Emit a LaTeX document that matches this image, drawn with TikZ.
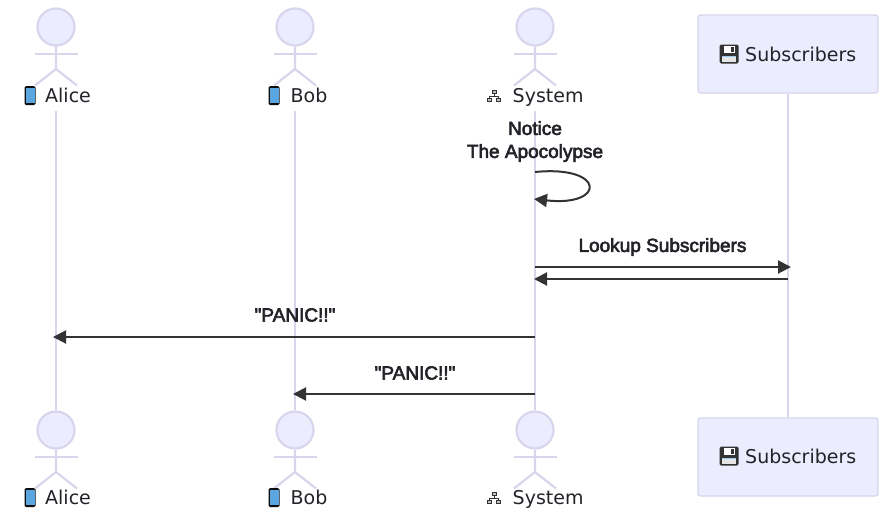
\documentclass[tikz,border=0pt]{standalone}
\usepackage{fontspec}
\setmainfont{DejaVu Sans}
\newfontfamily\msgfont[FakeBold=3]{Liberation Sans}
\usetikzlibrary{arrows.meta}
\definecolor{lilac}{HTML}{ECECFF}
\definecolor{edge}{HTML}{D8D5EC}
\definecolor{ink}{HTML}{333333}
\definecolor{txt}{HTML}{222228}
\definecolor{phone}{HTML}{5AA6E0}
\tikzset{
  x=1pt,y=-1pt,
  life/.style={draw=edge,line width=2.6pt},
  limb/.style={draw=edge,line width=2.2pt},
  head/.style={circle,draw=edge,fill=lilac,line width=2.2pt,minimum size=37pt,inner sep=0pt},
  pbox/.style={rectangle,rounded corners=2.5pt,draw=edge,fill=lilac,line width=1.4pt,minimum width=180pt,minimum height=78pt,inner sep=0pt},
  who/.style={font=\fontsize{19pt}{22pt}\selectfont,text=txt,inner sep=0pt,anchor=base west},
  msg/.style={font=\msgfont\fontsize{19pt}{23pt}\selectfont,text=txt,inner sep=0pt,align=center,anchor=center},
  wire/.style={draw=ink,line width=2pt,-{Triangle[length=13pt,width=13pt,fill=ink,color=ink]}},
}
% stick figure: #1 name, #2 x, #3 y of head centre
\newcommand{\stick}[3]{%
  \node[head] (#1) at (#2,#3) {};
  \coordinate (#1c) at (#2,#3+42);
  \draw[limb] (#1.south) -- (#1c) -- +(-21,16.5) (#1c) -- +(21,16.5);
  \draw[limb] (#2-21.5,#3+27) -- (#2+21.5,#3+27);
}
\newcommand{\phoneicon}[2]{%
  \fill[black!75!ink,rounded corners=1.5pt] (#1-5.5,#2-9.5) rectangle (#1+5.5,#2+9.5);
  \fill[phone] (#1-4.5,#2-7.5) rectangle (#1+4.5,#2+7.5);
}
\newcommand{\disk}[2]{%
  \fill[ink,rounded corners=1.5pt] (#1-9.5,#2-9.5) rectangle (#1+9.5,#2+9.5);
  \fill[white] (#1-5,#2-8) rectangle (#1+6,#2-1.5);
  \fill[ink] (#1+1.5,#2-7) rectangle (#1+4.5,#2-2.5);
  \fill[white!90!black] (#1-7,#2+1.5) rectangle (#1+7,#2+8);
  \fill[phone!60!white] (#1-7,#2+1.5) rectangle (#1+7,#2+2.5);
}
\newcommand{\net}[2]{%
  \draw[ink,line width=0.7pt] (#1,#2-2) -- (#1,#2+1) (#1-4.5,#2+3) -- (#1-4.5,#2+1) -- (#1+4.5,#2+1) -- (#1+4.5,#2+3);
  \fill[ink] (#1-2.5,#2-6) rectangle (#1+2.5,#2-1.5);
  \fill[ink] (#1-7,#2+2.5) rectangle (#1-2,#2+6.5);
  \fill[ink] (#1+2,#2+2.5) rectangle (#1+7,#2+6.5);
  \fill[white!70!ink] (#1-1.5,#2-5) rectangle (#1+1.5,#2-3);
  \fill[white!70!ink] (#1-6,#2+3.5) rectangle (#1-3,#2+5.5);
  \fill[white!70!ink] (#1+3,#2+3.5) rectangle (#1+6,#2+5.5);
}
\begin{document}
\begin{tikzpicture}
\useasboundingbox (0,0) rectangle (891,523);
\fill[white] (0,0) rectangle (891,523);
% anchors for lifelines
\coordinate (aliceTop) at (56,111);
\coordinate (bobTop) at (295,111);
\coordinate (sysTop) at (535,111);
% heads at the bottom first (lifelines end there)
\stick{aliceBot}{56}{430}
\stick{bobBot}{295}{430}
\stick{sysBot}{535}{430}
\node[pbox] (subTop) at (788,54) {};
\node[pbox] (subBot) at (788,457) {};
% lifelines
\draw[life] (aliceTop) -- (aliceBot.north);
\draw[life] (bobTop) -- (bobBot.north);
\draw[life] (sysTop) -- (sysBot.north);
\draw[life] (subTop.south) -- (subBot.north);
% top heads
\stick{aliceHead}{56}{27}
\stick{bobHead}{295}{27}
\stick{sysHead}{535}{27}
% labels, top
\phoneicon{30}{95.5}
\node[who] (aliceLbl) at (45,102.5) {Alice};
\phoneicon{274}{95.5}
\node[who] (bobLbl) at (290.5,102.5) {Bob};
\net{494}{95.5}
\node[who] (sysLbl) at (512.5,102.5) {System};
\disk{729}{54}
\node[who] (subLbl) at (745,61) {Subscribers};
% labels, bottom
\phoneicon{30}{497.5}
\node[who] (aliceLblB) at (45,504.5) {Alice};
\phoneicon{274}{497.5}
\node[who] (bobLblB) at (290.5,504.5) {Bob};
\net{494}{497.5}
\node[who] (sysLblB) at (512.5,504.5) {System};
\disk{729}{456}
\node[who] (subLblB) at (745,463) {Subscribers};
% messages
\node[msg] (notice) at (535,141.5) {Notice\\The Apocolypse};
\coordinate (selfA) at (535,172);
\coordinate (selfB) at (534,199);
\draw[wire] (selfA) .. controls (606,165) and (606,207) .. (selfB);
\node[msg] (lookup) at (662.5,247) {Lookup Subscribers};
\coordinate (sysL) at (535,267);
\coordinate (subL) at (791,267);
\draw[wire] (sysL) -- (subL);
\coordinate (subR) at (788,279);
\coordinate (sysR) at (534,279);
\draw[wire] (subR) -- (sysR);
\node[msg] (panicA) at (295,315) {"PANIC!!"};
\coordinate (sysP) at (535,337);
\coordinate (aliceP) at (53,337);
\draw[wire] (sysP) -- (aliceP);
\node[msg] (panicB) at (415,373) {"PANIC!!"};
\coordinate (sysQ) at (535,394);
\coordinate (bobQ) at (293,394);
\draw[wire] (sysQ) -- (bobQ);
\end{tikzpicture}
\end{document}
